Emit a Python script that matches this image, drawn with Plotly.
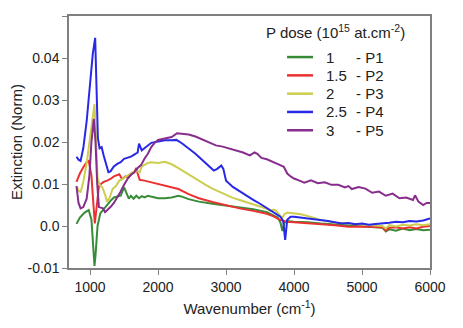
import plotly.graph_objects as go

# wavenumber (cm-1) / extinction pairs
x_p1 = [800, 850, 920, 980, 1020, 1050, 1065, 1080, 1110, 1150, 1200, 1250, 1300, 1350, 1400, 1450, 1500,
        1540, 1570, 1600, 1640, 1680, 1720, 1760, 1800, 1850, 1900, 2000, 2100, 2200, 2300, 2350, 2450,
        2600, 2800, 3000, 3200, 3400, 3600, 3700, 3760, 3800, 3830, 3860, 3900, 4000, 4200, 4400, 4600,
        4800, 5000, 5200, 5300, 5350, 5400, 5500, 5600, 5700, 5800, 5900, 6000]
y_p1 = [0.0005, 0.002, 0.0032, 0.0038, 0.0015, -0.006, -0.0095, -0.007, 0.0, 0.003, 0.004, 0.0052, 0.006, 0.0068, 0.007, 0.0072, 0.0092,
        0.0078, 0.0065, 0.0072, 0.0065, 0.0072, 0.0066, 0.0071, 0.0068, 0.0072, 0.007, 0.0066, 0.0066, 0.0068, 0.0072, 0.007, 0.0064,
        0.0058, 0.0053, 0.0049, 0.0045, 0.004, 0.0033, 0.0025, 0.002, 0.0008, -0.0012, 0.0008, 0.0012, 0.001, 0.0009, 0.0006, 0.0004,
        0.0002, -0.0001, -0.0003, -0.0004, -0.0013, -0.0008, -0.0011, -0.0006, -0.001, -0.0007, -0.001, -0.0009]

x_p2 = [800, 850, 900, 950, 980, 1020, 1050, 1070, 1100, 1130, 1160, 1200, 1250, 1300, 1350, 1400, 1430, 1470,
        1520, 1560, 1600, 1650, 1680, 1700, 1730, 1800, 1900, 2000, 2150, 2300, 2450, 2600, 2800, 3000,
        3200, 3400, 3600, 3700, 3800, 3900, 4000, 4200, 4400, 4600, 4700, 4800, 5000, 5200, 5300, 5350,
        5400, 5500, 5600, 5700, 5800, 5900, 6000]
y_p2 = [0.0105, 0.0125, 0.014, 0.0152, 0.0155, 0.012, 0.005, 0.0006, 0.005, 0.0095, 0.01, 0.0105, 0.0108, 0.0112, 0.0118, 0.012, 0.0123, 0.0112,
        0.0118, 0.0115, 0.0122, 0.0128, 0.0138, 0.0125, 0.011, 0.0108, 0.0104, 0.0099, 0.0094, 0.0088, 0.0076, 0.0066, 0.0057, 0.0049,
        0.0042, 0.0036, 0.0029, 0.0023, 0.0014, 0.001, 0.0009, 0.0006, 0.0004, 0.0002, 0.0, -0.0002, -0.0001, -0.0002, -0.0003, -0.0011,
        -0.0004, -0.0003, -0.0006, -0.0003, -0.0006, -0.0002, 0.0]

x_p3 = [800, 830, 860, 900, 950, 1000, 1040, 1065, 1085, 1110, 1140, 1180, 1220, 1250, 1290, 1330, 1380, 1430,
        1480, 1530, 1580, 1630, 1680, 1730, 1760, 1800, 1850, 1900, 2000, 2100, 2200, 2300, 2400, 2500,
        2600, 2700, 2800, 2900, 3000, 3100, 3200, 3300, 3400, 3500, 3600, 3650, 3700, 3730, 3780, 3820,
        3860, 3900, 4000, 4100, 4200, 4300, 4400, 4500, 4600, 4800, 5000, 5200, 5300, 5350, 5400, 5500,
        5600, 5700, 5800, 5900, 6000]
y_p3 = [0.0095, 0.0085, 0.008, 0.0105, 0.015, 0.021, 0.026, 0.029, 0.022, 0.0115, 0.0098, 0.0092, 0.0075, 0.0058, 0.0068, 0.0088, 0.0095, 0.0108,
        0.0112, 0.0118, 0.0122, 0.0128, 0.0132, 0.0128, 0.0142, 0.0146, 0.015, 0.0152, 0.015, 0.0153, 0.0147, 0.0138, 0.0128, 0.0118,
        0.0106, 0.0098, 0.0089, 0.0082, 0.0074, 0.0067, 0.0062, 0.0057, 0.0051, 0.0046, 0.0041, 0.0036, 0.0039, 0.0037, 0.0028, 0.0018,
        0.0028, 0.0032, 0.003, 0.0028, 0.0024, 0.0019, 0.0014, 0.0011, 0.0008, 0.0006, 0.0004, 0.0002, 0.0, -0.0006, 0.0002, -0.0001,
        0.0003, 0.0001, 0.0004, 0.0002, 0.0004]

x_p4 = [800, 830, 860, 900, 950, 1000, 1040, 1075, 1095, 1115, 1140, 1170, 1200, 1240, 1270, 1300, 1350, 1400,
        1450, 1500, 1550, 1600, 1650, 1700, 1720, 1760, 1800, 1850, 1900, 2000, 2100, 2200, 2270, 2350,
        2450, 2550, 2650, 2750, 2820, 2870, 2930, 2960, 3000, 3100, 3200, 3300, 3400, 3500, 3600, 3650,
        3700, 3760, 3800, 3840, 3870, 3900, 3950, 4000, 4100, 4200, 4300, 4400, 4500, 4600, 4700, 4800,
        4900, 5000, 5100, 5200, 5300, 5400, 5500, 5600, 5700, 5800, 5900, 6000]
y_p4 = [0.0165, 0.0158, 0.0155, 0.0185, 0.025, 0.033, 0.041, 0.0448, 0.035, 0.021, 0.0185, 0.0188, 0.0168, 0.0145, 0.0128, 0.013, 0.0142, 0.0148,
        0.0152, 0.016, 0.0163, 0.0165, 0.017, 0.0175, 0.0196, 0.018, 0.0185, 0.0192, 0.0198, 0.0201, 0.0204, 0.0204, 0.0205, 0.0197,
        0.0185, 0.0172, 0.0157, 0.0143, 0.0132, 0.0136, 0.0144, 0.0136, 0.0108, 0.0093, 0.0082, 0.0071, 0.0062, 0.0053, 0.0043, 0.0036,
        0.0031, 0.0025, 0.0022, 0.0012, -0.0033, 0.0015, 0.0022, 0.0022, 0.002, 0.0019, 0.0017, 0.0014, 0.0012, 0.0009, 0.0006, 0.0007,
        0.0004, 0.0006, 0.0003, 0.0005, 0.0006, 0.0008, 0.001, 0.0009, 0.0012, 0.0011, 0.0013, 0.0018]

x_p5 = [800, 830, 860, 900, 950, 990, 1020, 1055, 1080, 1105, 1130, 1160, 1190, 1220, 1260, 1300, 1350, 1400,
        1450, 1500, 1550, 1600, 1650, 1700, 1750, 1800, 1850, 1900, 1950, 2000, 2100, 2200, 2280, 2350,
        2450, 2550, 2650, 2750, 2850, 2950, 3050, 3150, 3250, 3350, 3420, 3460, 3520, 3600, 3700, 3780,
        3850, 3900, 3950, 4000, 4080, 4150, 4250, 4350, 4450, 4550, 4650, 4750, 4800, 4850, 4950, 5050,
        5150, 5250, 5350, 5450, 5550, 5650, 5750, 5780, 5830, 5900, 5950, 6000]
y_p5 = [0.0095, 0.0055, 0.0042, 0.0045, 0.0065, 0.012, 0.02, 0.0255, 0.02, 0.01, 0.0045, 0.0043, 0.0042, 0.0033, 0.0038, 0.0045, 0.0055, 0.0068,
        0.0082, 0.0098, 0.0112, 0.0122, 0.0128, 0.0138, 0.0145, 0.016, 0.0172, 0.0188, 0.0198, 0.0205, 0.0208, 0.0212, 0.0221, 0.022,
        0.0218, 0.0213, 0.0206, 0.0199, 0.0192, 0.0189, 0.0184, 0.0179, 0.0175, 0.0168, 0.0175, 0.0172, 0.0162, 0.0159, 0.0151, 0.0146,
        0.0141, 0.0125, 0.0118, 0.0113, 0.0108, 0.0103, 0.0109, 0.0102, 0.0104, 0.0098, 0.0098, 0.0092, 0.0095, 0.0088, 0.0093, 0.0089,
        0.0079, 0.0082, 0.0072, 0.0077, 0.0066, 0.0068, 0.0062, 0.0073, 0.0058, 0.005, 0.0055, 0.0055]

doses = ["1", "1.5", "2", "2.5", "3"]
samples = ["P1", "P2", "P3", "P4", "P5"]
colors = ["rgb(55,140,55)", "rgb(235,50,50)", "rgb(205,205,80)", "rgb(40,40,230)", "rgb(135,45,140)"]
xs = [x_p1, x_p2, x_p3, x_p4, x_p5]
ys = [y_p1, y_p2, y_p3, y_p4, y_p5]

fig = go.Figure()
for xx, yy, d, s, c in zip(xs, ys, doses, samples, colors):
    fig.add_trace(go.Scatter(x=xx, y=yy, name=d + " - " + s, mode="lines",
                             line=dict(color=c, width=2), showlegend=False))

# hand-built legend (tighter rows than plotly's own)
fig.add_annotation(text="P dose (10<sup>15</sup> at.cm<sup>-2</sup>)",
                   xref="paper", yref="paper", x=0.54, y=0.937,
                   xanchor="left", yanchor="middle", showarrow=False,
                   font=dict(size=15, color="#222"))
for i, (d, s, c) in enumerate(zip(doses, samples, colors)):
    yy = 0.837 - i * 0.0726
    fig.add_shape(type="line", xref="paper", yref="paper",
                  x0=0.604, x1=0.676, y0=yy, y1=yy,
                  line=dict(color=c, width=2.5))
    fig.add_annotation(text=d, xref="paper", yref="paper", x=0.707, y=yy,
                       xanchor="left", yanchor="middle", showarrow=False,
                       font=dict(size=15, color="#222"))
    fig.add_annotation(text="- " + s, xref="paper", yref="paper", x=0.79, y=yy,
                       xanchor="left", yanchor="middle", showarrow=False,
                       font=dict(size=15, color="#222"))

axcol = "#808080"
# margins allow for the 8px body margin of the page
fig.update_layout(
    width=463, height=328,
    margin=dict(l=61, r=41, t=8, b=68),
    plot_bgcolor="white", paper_bgcolor="white",
    font=dict(family="Liberation Sans, Arial", size=14, color="#222"),
    showlegend=False,
    xaxis=dict(range=[690, 6000], tickvals=[1000, 2000, 3000, 4000, 5000, 6000],
               ticks="outside", ticklen=5, tickcolor=axcol, showline=True,
               linecolor=axcol, linewidth=1.5, mirror=True, showgrid=False,
               zeroline=False, automargin=False,
               title=dict(text="Wavenumber (cm<sup>-1</sup>)", standoff=10,
                          font=dict(size=15))),
    yaxis=dict(range=[-0.01, 0.05],
               tickvals=[-0.01, 0, 0.01, 0.02, 0.03, 0.04, 0.05],
               ticktext=["-0.01", "0.0", "0.01", "0.02", "0.03", "0.04", "0.05"],
               ticks="outside", ticklen=5, tickcolor=axcol, showline=True,
               linecolor=axcol, linewidth=1.5, mirror=True, showgrid=False,
               zeroline=False, automargin=False,
               title=dict(text="Extinction (Norm)", standoff=6,
                          font=dict(size=15))),
)

fig.write_html("out.html")
